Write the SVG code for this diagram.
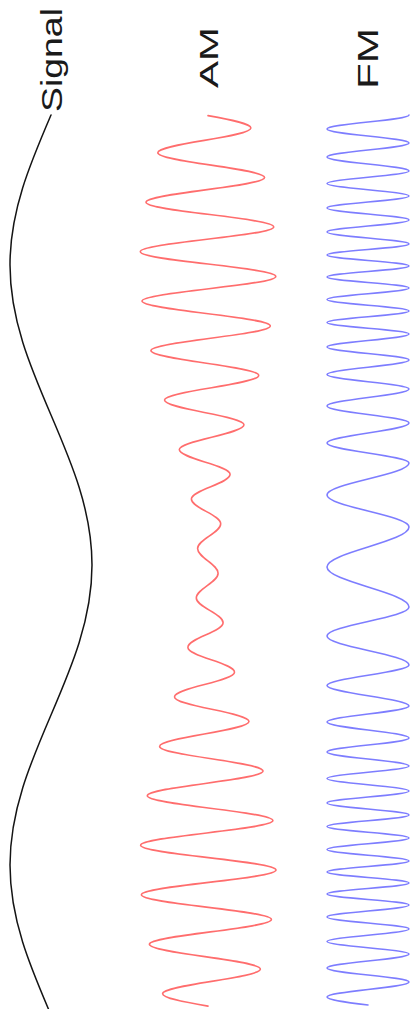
<svg xmlns="http://www.w3.org/2000/svg" width="415" height="1009" viewBox="0 0 415 1009">
<style>
.lbl{font-family:"Liberation Sans",Arial,sans-serif;fill:#1a1a1a}
.w{fill:none;stroke-linejoin:round;stroke-linecap:round}
.sig{stroke:#141414;stroke-width:1.5}
.am{stroke:#ff3c3c;stroke-width:1.6;stroke-opacity:0.75}
.fm{stroke:#4646ff;stroke-width:1.6;stroke-opacity:0.7}
</style>
<rect width="415" height="1009" fill="#ffffff"/>
<g id="signal">
<path class="w sig" d="M51,115 C30,163.9 10,210.7 10,265 C10,374 92,456 92,565 S10,756 10,865 C10,919.3 30,966.1 51,1015"/>
<text class="lbl" transform="translate(62,112) rotate(-90)" font-size="29" textLength="104" lengthAdjust="spacingAndGlyphs">Signal</text>
</g>
<g id="am">
<path class="w am" d="M208,115.6 C230,119.6 250.9,123.5 250.9,128 C250.9,137 157.8,143.7 157.8,152.7 S264.6,168.5 264.6,177.5 S146,193.2 146,202.2 S273.7,217.9 273.7,226.9 S140.3,242.7 140.3,251.7 S275.8,267.4 275.8,276.4 S142,292.1 142,301.1 S270.3,316.9 270.3,325.9 S150.9,341.6 150.9,350.6 S258.7,366.4 258.7,375.4 S164.5,391.1 164.5,400.1 S244,415.8 244,424.8 S179.3,440.6 179.3,449.6 S230.1,465.3 230.1,474.3 S191.4,490 191.4,499 S220.7,514.8 220.7,523.8 S197.6,539.5 197.6,548.5 S218.1,564.2 218.1,573.2 S196.3,589 196.3,598 S223.1,613.7 223.1,622.7 S187.9,638.4 187.9,647.4 S234.5,663.2 234.5,672.2 S174.5,687.9 174.5,696.9 S249,712.6 249,721.6 S159.6,737.4 159.6,746.4 S263.1,762.1 263.1,771.1 S147.3,786.8 147.3,795.8 S272.9,811.6 272.9,820.6 S140.6,836.3 140.6,845.3 S276,861 276,870 S141.4,885.8 141.4,894.8 S271.4,910.5 271.4,919.5 S149.4,935.3 149.4,944.3 S260.4,960 260.4,969 S162.6,984.7 162.6,993.7 C162.6,998.2 184.7,1002.1 208,1006.1"/>
<text class="lbl" transform="translate(218,88) rotate(-90)" font-size="25" textLength="61" lengthAdjust="spacingAndGlyphs">AM</text>
</g>
<g id="fm">
<path class="w fm" d="M409,115 C409,120.1 327,123.9 327,129 C327,134.1 409,137.9 409,143 C409,148.1 327,151.9 327,157 C327,162.1 409,165.9 409,171 C409,175.5 327,179 327,183.5 C327,188 409,191.5 409,196 C409,200.4 327,203.6 327,208 C327,212.4 409,215.6 409,220 C409,224.4 327,227.6 327,232 C327,236.4 409,239.6 409,244 C409,248 327,251 327,255 C327,259 409,262 409,266 C409,270 327,273 327,277 C327,281 409,284 409,288 C409,292.2 327,295.3 327,299.5 C327,303.7 409,306.8 409,311 C409,315.2 327,318.3 327,322.5 C327,326.7 409,329.8 409,334 C409,338.7 327,342.3 327,347 C327,351.7 409,355.3 409,360 C409,365.3 327,369.2 327,374.5 C327,379.8 409,383.7 409,389 C409,395.2 327,399.8 327,406 C327,412.2 409,416.8 409,423 C409,430.3 327,435.7 327,443 C327,450.3 409,455.7 409,463 C409,474.6 327,483.4 327,495 C327,506.6 409,515.4 409,527 C409,541.5 327,552.5 327,567 C327,581.5 409,592.5 409,607 C409,617.5 327,625.5 327,636 C327,646.5 409,654.5 409,665 C409,672.4 327,678.1 327,685.5 C327,692.9 409,698.6 409,706 C409,711.8 327,716.2 327,722 C327,727.8 409,732.2 409,738 C409,743.1 327,746.9 327,752 C327,757.1 409,760.9 409,766 C409,770.5 327,774 327,778.5 C327,783 409,786.5 409,791 C409,795.4 327,798.6 327,803 C327,807.4 409,810.6 409,815 C409,819.2 327,822.3 327,826.5 C327,830.7 409,833.8 409,838 C409,842.2 327,845.3 327,849.5 C327,853.7 409,856.8 409,861 C409,865 327,868 327,872 C327,876 409,879 409,883 C409,887 327,890 327,894 C327,898 409,901 409,905 C409,909.4 327,912.6 327,917 C327,921.4 409,924.6 409,929 C409,933.5 327,937 327,941.5 C327,946 409,949.5 409,954 C409,959.1 327,962.9 327,968 C327,973.1 409,976.9 409,982 C409,987.5 327,991.5 327,997 C327,999.9 347,1002.4 368,1005"/>
<text class="lbl" transform="translate(378,89) rotate(-90)" font-size="29" textLength="61" lengthAdjust="spacingAndGlyphs">FM</text>
</g>
<g id="connectors"></g>
</svg>
